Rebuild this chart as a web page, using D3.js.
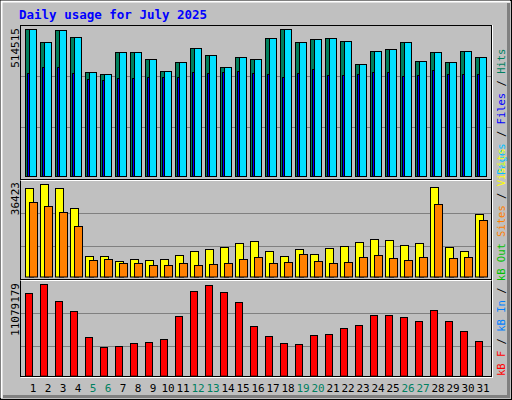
<!DOCTYPE html>
<html><head><meta charset="utf-8">
<script src="https://cdn.jsdelivr.net/npm/d3@7"></script>
<style>body{margin:0;background:#fff}svg{display:block}</style>
</head><body>
<script>
const days = d3.range(1, 32);
const weekends = [5,6,12,13,19,20,26,27];
const hits = [514515,467950,509960,485460,362960,355960,432960,432960,408460,366460,397960,446960,422460,380460,415460,408460,481960,513460,467960,478460,481960,471460,392000,436460,443460,467960,401460,432960,397960,436460,415460];
const files = hits.slice();
const pages = [360500,381500,381500,360500,339500,336000,343000,343000,346500,346500,346500,364000,360500,364000,367500,359500,356000,346500,359500,373500,353500,353500,356000,364000,364000,350000,353500,371000,356000,356000,356000];
const visits = [34840,36423,34840,26940,7980,7980,6120,6790,6400,6790,8370,9950,10740,11530,13110,13900,9950,7980,10740,8770,11260,11930,13510,14690,14300,12320,13110,35230,11530,9950,24570];
const sites = [29310,27730,25360,19830,6400,6790,5210,5210,4420,4420,5210,4420,4820,5210,6790,7580,5210,5610,8770,6000,5210,5610,7580,8370,7190,6400,7580,28520,7190,7580,22200];
const kbytes = [9988000,11079179,9018000,7806000,4655000,3443000,3564000,3927000,4049000,4412000,7200000,10231000,10958000,10109000,8897000,5988000,4776000,3927000,3806000,4897000,5018000,5746000,6109000,7322000,7322000,7079000,6594000,7928000,6594000,5382000,4170000];
const maxLabels = ["514515","36423","11079179"];

const W=512,H=400;
const svg=d3.select("body").append("svg").attr("width",W).attr("height",H);
svg.append("rect").attr("width",W).attr("height",H).attr("fill","#c0c0c0");
// outer bevel
svg.append("rect").attr("x",0.5).attr("y",0.5).attr("width",W-1).attr("height",H-1).attr("fill","none").attr("stroke","#000");
svg.append("path").attr("d","M1.5,398 V1.5 H510").attr("stroke","#fff").attr("stroke-width",2).attr("fill","none");
svg.append("path").attr("d","M3,396.5 H508.5 V3").attr("stroke","#808080").attr("stroke-width",3).attr("fill","none");

svg.append("text").attr("x",19).attr("y",19).text("Daily usage for July 2025")
  .attr("font-family","DejaVu Sans Mono").attr("font-weight","bold").attr("font-size",12.5).attr("fill","#0000ff");

const x = d3.scaleBand().domain(days).range([25,490]).paddingInner(0).paddingOuter(0);
const bx = d => 25 + (d-1)*15;

// frame
const fx0=20.5, fx1=491.5;
svg.append("rect").attr("x",fx0).attr("y",25.5).attr("width",fx1-fx0).attr("height",351).attr("fill","none").attr("stroke","#000");
svg.append("line").attr("x1",fx0).attr("x2",fx1).attr("y1",377.5).attr("y2",377.5).attr("stroke","#fff");
svg.append("line").attr("x1",fx1+1).attr("x2",fx1+1).attr("y1",25).attr("y2",378).attr("stroke","#fff");
[179.5,279.5].forEach(y=>{
  svg.append("line").attr("x1",fx0).attr("x2",fx1).attr("y1",y).attr("y2",y).attr("stroke","#000");
  svg.append("line").attr("x1",fx0).attr("x2",fx1).attr("y1",y+1).attr("y2",y+1).attr("stroke","#fff");
});
[76.5,127.5,213.5,246.5,313.5,346.5].forEach(y=>{
  svg.append("line").attr("x1",fx0+0.5).attr("x2",fx1-0.5).attr("y1",y).attr("y2",y).attr("stroke","#808080");
});

const yTop=d3.scaleLinear().domain([0,514515]).range([176,29]);
const yMid=d3.scaleLinear().domain([0,36423]).range([276.5,184.3]);
const yBot=d3.scaleLinear().domain([0,11079179]).range([375.7,284.3]);

function bars(data, y, off, w, color){
  svg.append("g").selectAll("rect").data(data).join("rect")
    .attr("x",(v,i)=>bx(days[i])+off+0.5).attr("width",w)
    .attr("y",v=>Math.round(y(v))+0.5).attr("height",v=>y(0)-Math.round(y(v)))
    .attr("fill",color).attr("stroke","#000");
}
bars(hits,yTop,0,11,"#00805c");
bars(files,yTop,4,7,"#00e0ff");
bars(pages,yTop,2,2,"#0000ff");
bars(visits,yMid,0,8,"#ffff00");
bars(sites,yMid,4,8,"#ff8000");
bars(kbytes,yBot,0,7,"#ff0000");

// day labels
svg.append("g").selectAll("text").data(days).join("text")
  .attr("x",d=>bx(d)+8).attr("y",392).attr("text-anchor","middle")
  .attr("font-family","DejaVu Sans Mono").attr("font-size",11)
  .attr("fill",d=>weekends.includes(d)?"#008060":"#000").text(d=>d);

// left max labels
[[28,maxLabels[0]],[182,maxLabels[1]],[283,maxLabels[2]]].forEach(([y,t])=>{
  svg.append("text").attr("transform",`translate(19,${y}) rotate(-90)`).attr("text-anchor","end")
    .attr("font-family","DejaVu Sans Mono").attr("font-size",11).attr("fill","#000").text(t);
});

// right legends
function legend(yEnd, parts){
  const t=svg.append("text").attr("transform",`translate(505,${yEnd}) rotate(-90)`)
    .attr("font-family","DejaVu Sans Mono").attr("font-size",10.5);
  parts.forEach(([s,c])=>t.append("tspan").attr("fill",c).text(s));
}
legend(175,[["Pages","#00c0ff"],[" / ","#000"],["Files","#0000ff"],[" / ","#000"],["Hits","#008060"]]);
legend(376,[["kB F","#ff0000"],[" / ","#000"],["kB In","#0080ff"],[" / ","#000"],["kB Out","#00c000"],[" ","#000"],["Sites","#ff8000"],[" / ","#000"],["Visits","#ffff00"]]);
</script>
</body></html>
